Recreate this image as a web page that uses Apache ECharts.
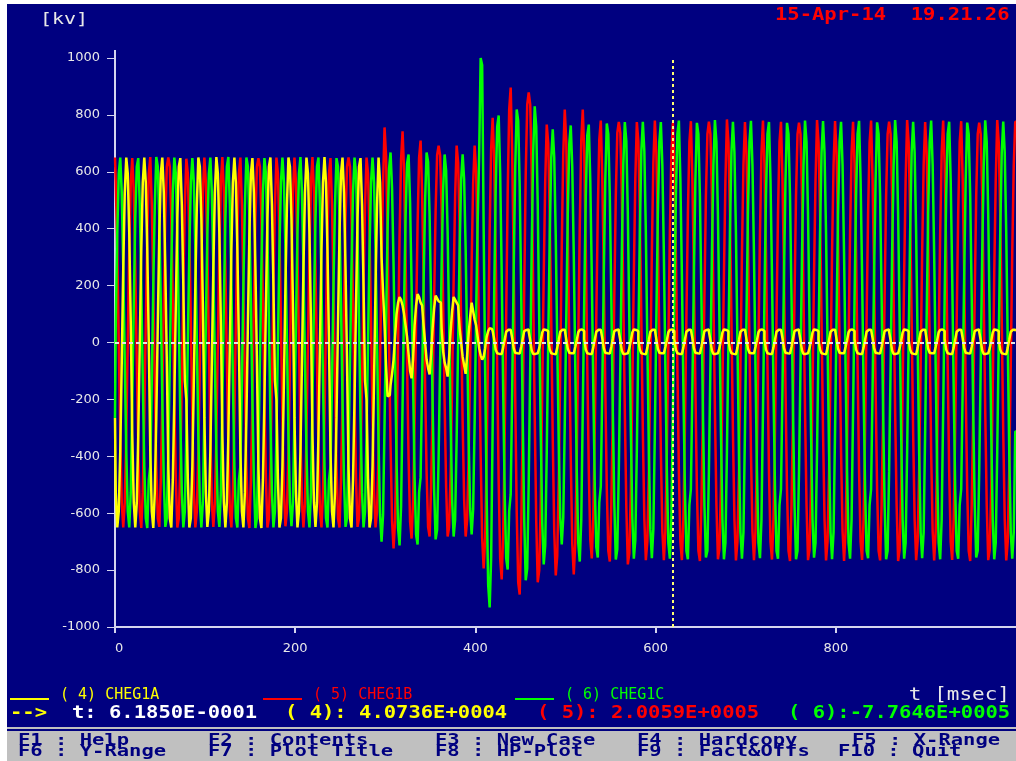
<!DOCTYPE html>
<html><head><meta charset="utf-8">
<script src="https://cdn.jsdelivr.net/npm/echarts@6/dist/echarts.min.js"></script>
<style>
html,body{margin:0;padding:0;background:#ffffff;width:1016px;height:761px;overflow:hidden;}
#bg{position:absolute;left:7px;top:4px;width:1009px;height:757px;background:#000080;}
#c{position:absolute;left:0;top:0;width:1016px;height:761px;}
</style>
</head><body><div id="bg"></div><div id="c"></div>
<script>
// ---- data (kV), one row = one 20 ms cycle, sampled every T_STEP_MS from t = 0 ms ----
const T_STEP_MS = 1000 / 600;

const CHEG1A = [
 -265,-526,-650,-594,-382,-68,265,526,650,594,382,68,
 -325,-563,-650,-563,-325,0,325,563,650,563,325,0,
 -382,-594,-652,-526,-265,68,382,594,650,526,265,-68,
 -435,-618,-650,-483,-201,135,435,618,648,483,201,-135,
 -201,-483,-650,-618,-435,-135,201,483,650,618,435,135,
 -265,-526,-648,-594,-382,-68,265,526,652,594,382,68,
 -325,-563,-650,-563,-325,0,325,563,650,563,325,0,
 -382,-594,-650,-526,-265,68,382,594,648,526,265,-68,
 -435,-618,-652,-483,-201,135,435,618,650,483,201,-135,
 -201,-483,-650,-618,-435,-135,201,483,650,618,435,135,
 -265,-526,-650,-594,-382,-68,265,526,650,594,382,68,
 -325,-563,-648,-563,-325,0,325,563,652,563,325,0,
 -382,-594,-650,-526,-265,68,382,594,650,526,265,-68,
 -435,-618,-650,-483,-201,135,435,618,648,483,201,-135,
 -201,-483,-650,-618,-435,-135,201,483,650,560,300,180,
 60,-80,-190,-185,-150,-110,-60,20,100,140,160,150,
 130,100,60,20,-40,-100,-126,-60,60,130,170,160,
 140,130,60,0,-60,-90,-112,-40,50,120,165,155,
 145,140,50,-30,-70,-90,-120,-50,40,110,160,150,
 140,130,50,0,-50,-80,-110,-45,30,90,140,110,
 80,60,20,-20,-45,-60,-50,-20,20,40,50,48,
 40,12,-25,-38,-40,-40,-38,-18,10,38,45,45,
 42,15,-20,-36,-38,-39,-37,-15,12,40,44,46,
 38,8,-28,-40,-40,-38,-35,-20,6,35,46,44,
 40,10,-25,-38,-40,-41,-39,-18,9,38,45,45,
 38,12,-22,-36,-38,-38,-38,-16,8,36,44,46,
 40,12,-25,-38,-40,-40,-38,-18,10,38,45,45,
 42,15,-20,-36,-38,-39,-37,-15,12,40,44,46,
 38,8,-28,-40,-40,-38,-35,-20,6,35,46,44,
 40,10,-25,-38,-40,-41,-39,-18,9,38,45,45,
 38,12,-22,-36,-38,-38,-38,-16,8,36,44,46,
 40,12,-25,-38,-40,-40,-38,-18,10,38,45,45,
 42,15,-20,-36,-38,-39,-37,-15,12,40,44,46,
 38,8,-28,-40,-40,-38,-35,-20,6,35,46,44,
 40,10,-25,-38,-40,-41,-39,-18,9,38,45,45,
 38,12,-22,-36,-38,-38,-38,-16,8,36,44,46,
 40,12,-25,-38,-40,-40,-38,-18,10,38,45,45,
 42,15,-20,-36,-38,-39,-37,-15,12,40,44,46,
 38,8,-28,-40,-40,-38,-35,-20,6,35,46,44,
 40,10,-25,-38,-40,-41,-39,-18,9,38,45,45,
 38,12,-22,-36,-38,-38,-38,-16,8,36,44,46,
 40,12,-25,-38,-40,-40,-38,-18,10,38,45,45,
 42,15,-20,-36,-38,-39,-37,-15,12,40,44,46,
 38,8,-28,-40,-40,-38,-35,-20,6,35,46,44,
 40,10,-25,-38,-40,-41,-39,-18,9,38,45,45,
 38,12,-22,-36,-38,-38,-38,-16,8,36,44,46,
 40,12,-25,-38,-40,-40,-38,-18,10,38,45,45,
 42,15,-20,-36,-38,-39,-37,-15,12,40,44,46,
 38,8,-28,-40,-40,-38,-35,-20,6,35,46,44,
 40,10,-25,-38,-40,-41,-39,-18,9,38,45,45,
 40
];

const CHEG1B = [
 650,563,325,0,-325,-563,-650,-563,-325,0,325,563,
 648,526,265,-68,-382,-594,-652,-526,-265,68,382,594,
 652,483,201,-135,-435,-618,-648,-483,-201,135,435,618,
 650,618,435,135,-201,-483,-650,-618,-435,-135,201,483,
 646,594,382,68,-265,-526,-650,-594,-382,-68,265,526,
 650,563,325,0,-325,-563,-648,-563,-325,0,325,563,
 652,526,265,-68,-382,-594,-650,-526,-265,68,382,594,
 650,483,201,-135,-435,-618,-652,-483,-201,135,435,618,
 648,618,435,135,-201,-483,-650,-618,-435,-135,201,483,
 650,594,382,68,-265,-526,-646,-594,-382,-68,265,526,
 650,563,325,0,-325,-563,-650,-563,-325,0,325,563,
 652,526,265,-68,-382,-594,-650,-526,-265,68,382,594,
 648,483,201,-135,-435,-618,-650,-483,-201,135,435,618,
 650,618,435,135,-201,-483,-648,-618,-435,-135,201,483,
 650,594,382,68,-265,-526,-650,-594,-382,-68,280,560,
 756,655,378,0,-362,-627,-724,-627,-362,0,371,643,
 742,600,302,-75,-405,-630,-689,-557,-280,74,417,649,
 710,528,219,-145,-456,-649,-682,-507,-211,143,463,658,
 692,658,463,143,-211,-507,-682,-649,-456,-143,214,514,
 692,632,407,72,-278,-552,-682,-623,-401,-72,282,560,
 692,599,346,0,-397,-688,-794,-688,-397,0,395,684,
 790,639,322,-85,-490,-761,-833,-674,-339,91,527,819,
 896,666,277,-185,-593,-843,-886,-658,-274,183,588,836,
 879,836,588,179,-260,-626,-843,-802,-564,-167,237,569,
 766,700,450,83,-333,-663,-819,-749,-482,-86,333,663,
 819,709,410,0,-408,-706,-815,-706,-408,0,410,709,
 819,663,333,-83,-446,-694,-759,-614,-309,81,459,713,
 780,580,241,-161,-515,-732,-770,-572,-238,161,518,737,
 775,737,518,162,-241,-580,-780,-742,-522,-162,239,576,
 775,708,456,81,-311,-619,-765,-699,-450,-81,317,631,
 780,667,385,0,-385,-663,-765,-663,-383,0,385,667,
 772,623,313,-81,-453,-700,-765,-621,-313,81,453,704,
 778,572,238,-160,-515,-732,-768,-572,-238,160,515,732,
 776,732,515,160,-238,-572,-762,-725,-512,-160,238,572,
 784,704,453,81,-313,-623,-766,-700,-450,-81,313,623,
 775,667,385,0,-385,-663,-765,-663,-383,0,385,667,
 780,623,313,-81,-453,-700,-763,-621,-313,81,453,704,
 776,572,238,-160,-515,-732,-768,-572,-238,160,515,732,
 773,732,515,160,-238,-572,-765,-728,-512,-160,238,572,
 782,704,453,81,-313,-623,-766,-700,-450,-81,313,623,
 778,667,385,0,-385,-663,-768,-663,-383,0,385,667,
 776,623,313,-81,-453,-700,-764,-621,-313,81,453,704,
 780,572,238,-160,-515,-732,-766,-572,-238,160,515,732,
 776,732,515,160,-238,-572,-768,-728,-512,-160,238,572,
 782,704,453,81,-313,-623,-765,-700,-450,-81,313,623,
 775,667,385,0,-385,-663,-766,-663,-383,0,385,667,
 780,623,313,-81,-453,-700,-764,-621,-313,81,453,704,
 778,572,238,-160,-515,-732,-768,-572,-238,160,515,732,
 773,732,515,160,-238,-572,-765,-728,-512,-160,238,572,
 782,704,453,81,-313,-623,-766,-700,-450,-81,313,623,
 776
];

const CHEG1C = [
 -265,68,382,594,650,526,265,-68,-382,-594,-650,-526,
 -201,135,435,618,648,483,201,-135,-435,-618,-652,-483,
 -435,-135,201,483,652,618,435,135,-201,-483,-648,-618,
 -382,-68,265,526,650,594,382,68,-265,-526,-650,-594,
 -325,0,325,563,648,563,325,0,-325,-563,-650,-563,
 -265,68,382,594,650,526,265,-68,-382,-594,-648,-526,
 -201,135,435,618,652,483,201,-135,-435,-618,-650,-483,
 -435,-135,201,483,650,618,435,135,-201,-483,-652,-618,
 -382,-68,265,526,648,594,382,68,-265,-526,-650,-594,
 -325,0,325,563,650,563,325,0,-325,-563,-646,-563,
 -265,68,382,594,652,526,265,-68,-382,-594,-650,-526,
 -201,135,435,618,650,483,201,-135,-435,-618,-650,-483,
 -435,-135,201,483,648,618,435,135,-201,-483,-648,-618,
 -382,-68,265,526,650,594,382,68,-265,-526,-650,-594,
 -325,0,325,563,650,563,325,0,-350,-606,-700,-606,
 -285,70,393,611,668,540,272,-72,-419,-652,-713,-577,
 -220,137,442,629,661,491,204,-141,-475,-675,-710,-528,
 -475,-145,206,496,668,635,447,139,-214,-514,-692,-658,
 -407,-71,269,535,661,604,389,70,-278,-552,-682,-623,
 -341,0,330,572,661,572,330,0,-338,-585,-675,-585,
 -275,105,420,660,1000,975,400,-105,-547,-851,-931,-753,
 -288,166,534,759,798,593,247,-166,-534,-759,-798,-593,
 -534,-170,253,608,819,779,548,170,-258,-621,-836,-795,
 -492,-87,338,671,830,759,488,82,-317,-631,-780,-713,
 -390,0,375,649,749,649,375,0,-355,-615,-710,-615,
 -289,80,449,697,763,617,311,-81,-453,-704,-770,-623,
 -238,159,512,728,766,569,237,-157,-506,-719,-756,-562,
 -506,-160,238,572,770,732,515,159,-236,-567,-763,-726,
 -449,-81,315,627,775,708,456,80,-309,-615,-760,-695,
 -380,0,388,672,776,672,388,0,-379,-656,-758,-656,
 -313,81,453,704,775,623,313,-81,-453,-704,-760,-623,
 -238,160,515,732,780,572,238,-160,-515,-732,-762,-572,
 -515,-160,238,572,772,732,515,160,-238,-572,-756,-732,
 -453,-81,313,623,782,704,453,81,-313,-623,-762,-704,
 -385,0,385,667,776,667,385,0,-385,-667,-760,-667,
 -313,81,453,704,779,623,313,-81,-453,-704,-758,-623,
 -238,160,515,732,775,572,238,-160,-515,-732,-760,-572,
 -515,-160,238,572,772,732,515,160,-238,-572,-762,-732,
 -453,-81,313,623,780,704,453,81,-313,-623,-756,-704,
 -385,0,385,667,778,667,385,0,-385,-667,-762,-667,
 -313,81,453,704,776,623,313,-81,-453,-704,-760,-623,
 -238,160,515,732,779,572,238,-160,-515,-732,-758,-572,
 -515,-160,238,572,774,732,515,160,-238,-572,-762,-732,
 -453,-81,313,623,782,704,453,81,-313,-623,-760,-704,
 -385,0,385,667,776,667,385,0,-385,-667,-758,-667,
 -313,81,453,704,780,623,313,-81,-453,-704,-762,-623,
 -238,160,515,732,776,572,238,-160,-515,-732,-760,-572,
 -515,-160,238,572,773,732,515,160,-238,-572,-756,-732,
 -453,-81,313,623,781,704,453,81,-313,-623,-762,-704,
 -385,0,385,667,777,667,385,0,-385,-667,-760,-667,
 -313
];

const SERIES_NAMES  = ['( 4) CHEG1A', '( 5) CHEG1B', '( 6) CHEG1C'];
const SERIES_COLORS = ['#ffff00', '#ff0000', '#00ff00'];
const CURSOR_T_MS   = 618.5;
const CURSOR_TEXTS  = ['t: 6.1850E-0001', '( 4): 4.0736E+0004', '( 5): 2.0059E+0005', '( 6):-7.7646E+0005'];
const FKEYS_ROW1    = ['F1 : Help', 'F2 : Contents', 'F3 : New Case', 'F4 : Hardcopy', 'F5 : X-Range'];
const FKEYS_ROW2    = ['F6 : Y-Range', 'F7 : Plot Title', 'F8 : HP-Plot', 'F9 : Fact&Offs', 'F10 : Quit'];
const Y_UNIT = '[kv]';
const X_UNIT = 't [msec]';
const DATE_TEXT = '15-Apr-14  19.21.26';
const X_MIN = 0, X_MAX = 1000, X_STEP = 200;
const Y_MIN = -1000, Y_MAX = 1000, Y_STEP = 200;

// ---- chart ----
const toXY = arr => arr.map((v, i) => [i * T_STEP_MS, v]);
const MONO = '"DejaVu Sans Mono", "Liberation Mono", monospace';
const AXIS_COLOR = '#d4d4ee';
const LABEL_COLOR = '#e8e8e8';

function txt(x, y, text, color, size, bold, sy, align) {
  return {
    type: 'text', x: x, y: y, scaleY: sy, z: 100, silent: true,
    style: { text: text, fill: color, font: (bold ? 'bold ' : '') + size + 'px ' + MONO,
             textAlign: align || 'left', textVerticalAlign: 'middle' }
  };
}

const graphics = [
  { type: 'rect', z: 1, silent: true, shape: { x: 7, y: 727, width: 1009, height: 34 }, style: { fill: '#c0c0c0' } },
  { type: 'rect', z: 1, silent: true, shape: { x: 7, y: 729, width: 1009, height: 2 }, style: { fill: '#000080' } },
  { type: 'line', z: 1, silent: true, shape: { x1: 115, y1: 50, x2: 115, y2: 59 }, style: { stroke: AXIS_COLOR, lineWidth: 2 } },
  txt(40, 20, Y_UNIT, LABEL_COLOR, 20, false, 0.8),
  txt(775, 16, DATE_TEXT, '#ff0000', 20.5, true, 0.82),
  txt(1010, 696, X_UNIT, LABEL_COLOR, 21, false, 0.8, 'right')
];
const legX = [10, 263, 515];
SERIES_NAMES.forEach((n, i) => {
  graphics.push({ type: 'line', z: 1, silent: true, shape: { x1: legX[i], y1: 699, x2: legX[i] + 39, y2: 699 },
                  style: { stroke: SERIES_COLORS[i], lineWidth: 2 } });
  graphics.push(txt(legX[i] + 50, 695, n, SERIES_COLORS[i], 15, false, 1));
});
graphics.push(txt(10, 714, '-->', '#ffff00', 20.5, true, 0.82));
const curX = [72, 285, 537, 788];
const curC = ['#ffffff', SERIES_COLORS[0], SERIES_COLORS[1], SERIES_COLORS[2]];
CURSOR_TEXTS.forEach((t, i) => graphics.push(txt(curX[i], 714, t, curC[i], 20.5, true, 0.82)));
const fkX1 = [18, 208, 435, 637, 852];
const fkX2 = [18, 208, 435, 637, 838];
FKEYS_ROW1.forEach((t, i) => graphics.push(txt(fkX1[i], 741.5, t, '#000080', 20.5, true, 0.75)));
FKEYS_ROW2.forEach((t, i) => graphics.push(txt(fkX2[i], 752.5, t, '#000080', 20.5, true, 0.75)));

const data = [CHEG1B, CHEG1C, CHEG1A];
const order = [1, 2, 0];
const series = data.map((arr, k) => ({
  name: SERIES_NAMES[order[k]], type: 'line', step: 'middle', data: toXY(arr),
  showSymbol: false, symbol: 'none', silent: true, animation: false, z: 2 + k,
  lineStyle: { color: SERIES_COLORS[order[k]], width: 2.5 }
}));
series.push({
  type: 'line', data: [], z: 10, silent: true, animation: false,
  markLine: {
    silent: true, animation: false, symbol: ['none', 'none'], label: { show: false },
    data: [
      { yAxis: 0, lineStyle: { color: '#e6e6e6', type: [4, 3], width: 2 } },
      { xAxis: CURSOR_T_MS, lineStyle: { color: '#ffff70', type: [3, 3], width: 2 } }
    ]
  }
});

const chart = echarts.init(document.getElementById('c'), null, { renderer: 'canvas' });
chart.setOption({
  backgroundColor: 'transparent',
  animation: false,
  grid: { left: 115, right: 0, top: 58, bottom: 134, containLabel: false },
  xAxis: {
    type: 'value', min: X_MIN, max: X_MAX, interval: X_STEP,
    axisLine: { show: true, onZero: false, lineStyle: { color: AXIS_COLOR, width: 2 } },
    axisTick: { show: true, inside: false, length: 6, lineStyle: { color: AXIS_COLOR, width: 2 } },
    axisLabel: { color: LABEL_COLOR, fontFamily: 'DejaVu Sans', fontSize: 13, margin: 15,
                 showMaxLabel: false, alignMinLabel: 'left', formatter: v => String(v) },
    splitLine: { show: false }
  },
  yAxis: {
    type: 'value', min: Y_MIN, max: Y_MAX, interval: Y_STEP,
    axisLine: { show: true, onZero: false, lineStyle: { color: AXIS_COLOR, width: 2 } },
    axisTick: { show: true, inside: false, length: 8, lineStyle: { color: AXIS_COLOR, width: 1 } },
    axisLabel: { color: LABEL_COLOR, fontFamily: 'DejaVu Sans', fontSize: 13, margin: 15, formatter: v => String(v) },
    splitLine: { show: false }
  },
  graphic: { elements: graphics },
  series: series
});
</script>
</body></html>
